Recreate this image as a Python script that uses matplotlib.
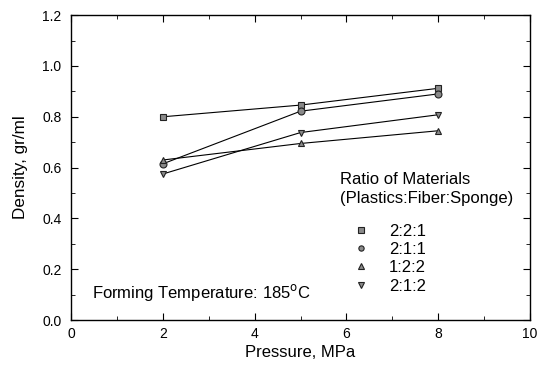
import numpy as np
import matplotlib
matplotlib.use("Agg")
from matplotlib import pyplot as plt
from matplotlib.ticker import MultipleLocator

plt.rcParams['font.family'] = ['Liberation Sans', 'DejaVu Sans']

# Data
pressure = [2, 5, 8]
d_221 = [0.80, 0.846, 0.912]
d_211 = [0.615, 0.822, 0.890]
d_122 = [0.630, 0.695, 0.745]
d_212 = [0.575, 0.738, 0.808]
labels = ['2:2:1', '2:1:1', '1:2:2', '2:1:2']
markers = ['s', 'o', '^', 'v']

fig = plt.figure(figsize=(5.47, 3.68), dpi=100)
ax = fig.add_axes([0.130, 0.130, 0.839, 0.829])

for d, m, lab in zip([d_221, d_211, d_122, d_212], markers, labels):
    ax.plot(pressure, d, color='black', lw=0.8, marker=m, ms=5,
            mfc='#8a8a8a', mec='#222222', mew=0.8, label=lab)

ax.set_xlim(0, 10)
ax.set_ylim(0, 1.2)
ax.xaxis.set_major_locator(MultipleLocator(2))
ax.xaxis.set_minor_locator(MultipleLocator(1))
ax.yaxis.set_major_locator(MultipleLocator(0.2))
ax.yaxis.set_minor_locator(MultipleLocator(0.1))
ax.yaxis.set_major_formatter(plt.FormatStrFormatter('%.1f'))
ax.tick_params(which='both', direction='in', top=True, right=True, labelsize=10)
ax.tick_params(which='major', length=5)
ax.tick_params(which='minor', length=3)
ax.tick_params(axis='x', pad=5)
ax.tick_params(axis='y', pad=7)
for s in ax.spines.values():
    s.set_linewidth(1.0)

ax.set_xlabel('Pressure, MPa', fontsize=12, labelpad=3)
ax.set_ylabel('Density, gr/ml', fontsize=12.3, labelpad=10)

# legend title as separate text, left aligned like the original
ax.text(0.586, 0.4295, 'Ratio of Materials\n(Plastics:Fiber:Sponge)', transform=ax.transAxes,
        fontsize=12, ha='left', va='center', linespacing=1.3)

leg = ax.legend(frameon=False, loc='center left', bbox_to_anchor=(0.614, 0.2016),
                fontsize=12, handlelength=1.0, handletextpad=1.18,
                labelspacing=0.2, borderpad=0, borderaxespad=0)
for line in leg.get_lines():
    line.set_linestyle('none')
    line.set_markersize(3.8)

ax.text(0.045, 0.092, 'Forming Temperature: 185$^{\\rm o}$C', transform=ax.transAxes,
        fontsize=12, va='center', ha='left')

plt.savefig('out.png', dpi=100)
